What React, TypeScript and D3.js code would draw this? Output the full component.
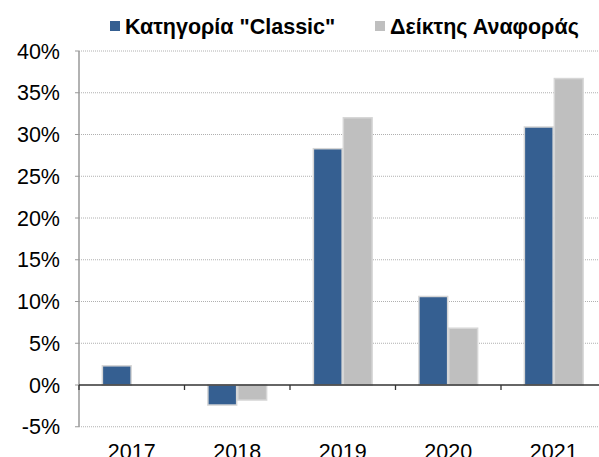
import {useEffect, useRef} from "react";
import * as d3 from "d3";

const years = ["2017", "2018", "2019", "2020", "2021"];
const classic = [2.3, -2.4, 28.3, 10.6, 30.9];
const benchmark = [0, -1.8, 32.0, 6.8, 36.7];
const seriesNames = ['Κατηγορία "Classic"', "Δείκτης Αναφοράς"];
const yTicks = [-5, 0, 5, 10, 15, 20, 25, 30, 35, 40];

export default function App() {
  const svgRef = useRef<SVGSVGElement | null>(null);

  useEffect(() => {
    const width = 599;
    const height = 457;
    const svg = d3.select(svgRef.current);
    svg.selectAll("*").remove();
    svg.attr("width", width).attr("height", height);

    const font = "'Liberation Sans', Arial, sans-serif";
    const fs = 21.5;
    const x0 = 79;
    const catW = 105.5;

    const x = d3.scaleBand<string>()
      .domain(years)
      .range([x0, x0 + catW * years.length]);
    const y = d3.scaleLinear().domain([-5, 40]).range([426.75, 51]);

    // gridlines (dotted)
    svg.append("g").selectAll("line")
      .data(yTicks.filter(t => t !== 0))
      .enter().append("line")
      .attr("x1", x0).attr("x2", width)
      .attr("y1", d => y(d)).attr("y2", d => y(d))
      .attr("stroke", "#b0b0b0")
      .attr("stroke-width", 1)
      .attr("stroke-dasharray", "1,1");

    // y axis
    svg.append("line")
      .attr("x1", x0).attr("x2", x0)
      .attr("y1", y(40)).attr("y2", y(-5))
      .attr("stroke", "#999").attr("stroke-width", 1.5);
    svg.append("g").selectAll("line")
      .data(yTicks)
      .enter().append("line")
      .attr("x1", x0 - 4).attr("x2", x0)
      .attr("y1", d => y(d)).attr("y2", d => y(d))
      .attr("stroke", "#999");
    svg.append("g").selectAll("text")
      .data(yTicks)
      .enter().append("text")
      .attr("x", 60)
      .attr("y", d => y(d) + 7.7)
      .attr("text-anchor", "end")
      .attr("font-family", font)
      .attr("font-size", fs)
      .attr("fill", "#000")
      .text(d => `${d}%`);

    // bars
    const inner = d3.scaleBand<number>()
      .domain([0, 1])
      .range([0, x.bandwidth()])
      .paddingInner(0.04)
      .paddingOuter(0.78);
    const groups = [classic, benchmark];
    const colors = ["#355f91", "#bfbfbf"];
    groups.forEach((vals, si) => {
      svg.append("g").selectAll("rect")
        .data(vals.map((v, i) => ({v, year: years[i]})).filter(d => d.v !== 0))
        .enter().append("rect")
        .attr("x", d => (x(d.year) as number) + (inner(si) as number))
        .attr("width", inner.bandwidth())
        .attr("y", d => y(Math.max(0, d.v)))
        .attr("height", d => Math.abs(y(d.v) - y(0)))
        .attr("fill", colors[si])
        .attr("stroke", "#d6d6d6")
        .attr("stroke-width", 1.5);
    });

    // x axis at zero
    svg.append("line")
      .attr("x1", x0).attr("x2", width)
      .attr("y1", y(0)).attr("y2", y(0))
      .attr("stroke", "#333").attr("stroke-width", 1.3);
    svg.append("g").selectAll("line")
      .data(years)
      .enter().append("line")
      .attr("x1", d => x(d) as number).attr("x2", d => x(d) as number)
      .attr("y1", y(0)).attr("y2", y(0) + 5)
      .attr("stroke", "#333").attr("stroke-width", 1.3);
    svg.append("g").selectAll("text")
      .data(years)
      .enter().append("text")
      .attr("x", d => (x(d) as number) + x.bandwidth() / 2)
      .attr("y", 459)
      .attr("text-anchor", "middle")
      .attr("font-family", font)
      .attr("font-size", fs)
      .attr("fill", "#000")
      .text(d => d);

    // legend
    const legendX = [110, 375];
    seriesNames.forEach((name, i) => {
      svg.append("rect")
        .attr("x", legendX[i]).attr("y", 21)
        .attr("width", 10).attr("height", 10)
        .attr("fill", colors[i]);
      svg.append("text")
        .attr("x", legendX[i] + 15).attr("y", 34)
        .attr("font-family", font)
        .attr("font-size", fs)
        .attr("font-weight", "bold")
        .attr("fill", "#000")
        .text(name);
    });
  }, []);

  return (
    <svg ref={svgRef} style={{position: "absolute", left: 0, top: 0, background: "#fff"}} />
  );
}
